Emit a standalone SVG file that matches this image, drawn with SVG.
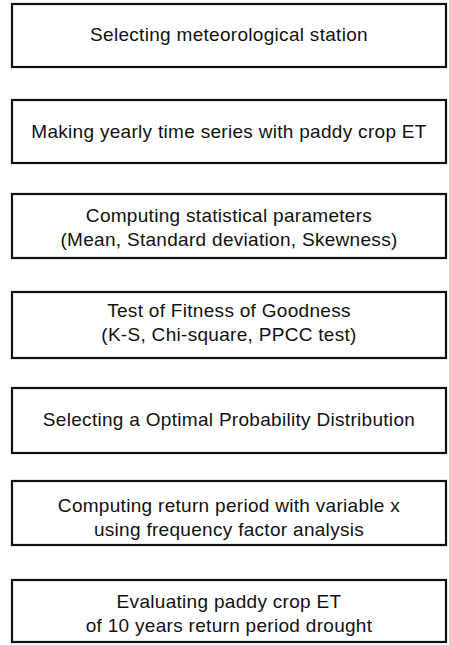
<svg xmlns="http://www.w3.org/2000/svg" width="449" height="645" viewBox="0 0 449 645">
<style>
.box{fill:#fff;stroke:#111;stroke-width:2.2}
.t{font-family:"Liberation Sans",Arial,sans-serif;font-size:19px;letter-spacing:0.3px;fill:#111;text-anchor:middle}
</style>
<rect width="449" height="645" fill="#fff"/>
<g id="connectors"></g>
<g id="n1"><rect class="box" x="12" y="4" width="434" height="63"/><text class="t" x="229" y="41">Selecting meteorological station</text></g>
<g id="n2"><rect class="box" x="12" y="100" width="434" height="63"/><text class="t" x="229" y="138">Making yearly time series with paddy crop ET</text></g>
<g id="n3"><rect class="box" x="12" y="194" width="434" height="64"/><text class="t" x="229" y="222">Computing statistical parameters</text><text class="t" x="229" y="246">(Mean, Standard deviation, Skewness)</text></g>
<g id="n4"><rect class="box" x="12" y="292" width="434" height="66"/><text class="t" x="229" y="317">Test of Fitness of Goodness</text><text class="t" x="229" y="341">(K-S, Chi-square, PPCC test)</text></g>
<g id="n5"><rect class="box" x="12" y="388" width="434" height="65"/><text class="t" x="229" y="426">Selecting a Optimal Probability Distribution</text></g>
<g id="n6"><rect class="box" x="12" y="481" width="434" height="64"/><text class="t" x="229" y="512">Computing return period with variable x</text><text class="t" x="229" y="536">using frequency factor analysis</text></g>
<g id="n7"><rect class="box" x="12" y="580" width="434" height="62"/><text class="t" x="229" y="608">Evaluating paddy crop ET</text><text class="t" x="229" y="632">of 10 years return period drought</text></g>
</svg>
